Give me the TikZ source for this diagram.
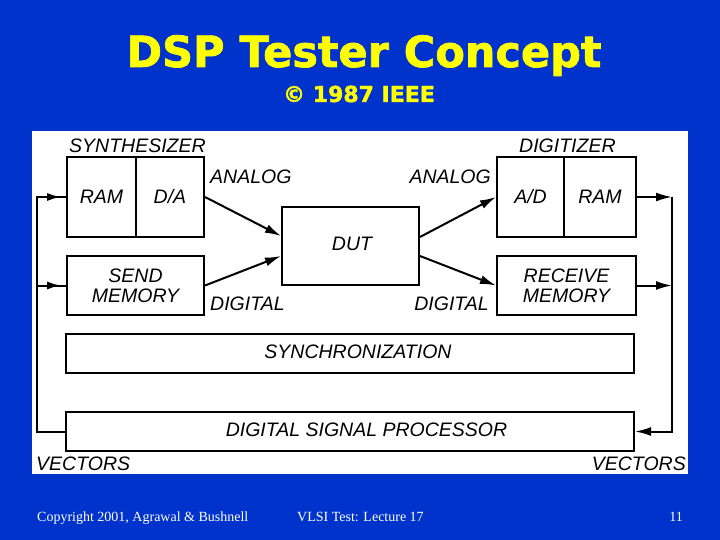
\documentclass[tikz,border=0pt]{standalone}
\usepackage{fontspec}
\setmainfont{Liberation Sans}
\newfontfamily\titlefont[BoldFeatures={FakeBold=1.6}]{DejaVu Sans}
\newfontfamily\footfont{Liberation Serif}
\usetikzlibrary{arrows.meta,calc}
\definecolor{slideblue}{RGB}{0,51,204}
\definecolor{titleyellow}{RGB}{255,255,0}
\begin{document}
\begin{tikzpicture}[x=1pt,y=-1pt,
  box/.style={draw=black,line width=2pt,fill=white,inner sep=0pt,
    font=\fontsize{19.5}{20}\selectfont\itshape,align=center},
  lbl/.style={inner sep=0pt,font=\fontsize{19.5}{20}\selectfont\itshape},
  wire/.style={draw=black,line width=2pt},
  tip/.style={-{Latex[length=16pt,width=9pt]}},
  foot/.style={inner sep=0pt,text=white,font=\footfont\fontsize{14}{14}\selectfont}
]
\useasboundingbox (0,0) rectangle (720,540);
\fill[slideblue] (0,0) rectangle (720,540);

% title
\node[inner sep=0pt,anchor=base,text=titleyellow,font=\titlefont\bfseries\fontsize{43}{43}\selectfont] (title) at (364,67) {DSP Tester Concept};
\node[inner sep=0pt,anchor=base,text=titleyellow,font=\titlefont\bfseries\fontsize{22}{22}\selectfont] (copy) at (359,102) {© 1987 IEEE};

% panel
\fill[white] (32,131) rectangle (688,474);

% boxes
\node[box,minimum width=69pt,minimum height=80pt] (ram1) at (101.5,197) {RAM};
\node[box,minimum width=68pt,minimum height=80pt] (da) at (170,197) {D/A};
\node[box,minimum width=137pt,minimum height=59pt] (send) at (135.5,285.5) {SEND\\MEMORY};
\node[box,minimum width=137pt,minimum height=78pt] (dut) at (350.5,246) {};
\node[lbl] (duttext) at (352,244) {DUT};
\node[box,minimum width=67pt,minimum height=80pt] (ad) at (530.5,197) {A/D};
\node[box,minimum width=72pt,minimum height=80pt] (ram2) at (600,197) {RAM};
\node[box,minimum width=139pt,minimum height=59pt] (recv) at (566.5,285.5) {RECEIVE\\MEMORY};
\node[box,minimum width=568pt,minimum height=39pt] (sync) at (350,353.5) {};
\node[lbl] (synctext) at (358,352) {SYNCHRONIZATION};
\node[box,minimum width=568pt,minimum height=39pt] (dsp) at (350,431.5) {};
\node[lbl] (dsptext) at (366.5,430) {DIGITAL SIGNAL PROCESSOR};

% labels
\node[lbl,anchor=base west] (synth) at (69,153) {SYNTHESIZER};
\node[lbl,anchor=base west] (digit) at (519,153) {DIGITIZER};
\node[lbl,anchor=base west] (anl) at (210,184) {ANALOG};
\node[lbl,anchor=base east] (anr) at (491,184) {ANALOG};
\node[lbl,anchor=base west] (dgl) at (210,310) {DIGITAL};
\node[lbl,anchor=base east] (dgr) at (489,310) {DIGITAL};
\node[lbl,anchor=base west] (vecl) at (36,470) {VECTORS};
\node[lbl,anchor=base east] (vecr) at (686,470) {VECTORS};

% coordinates for the feedback loops
\coordinate (lt) at (37,197);
\coordinate (lm) at (37,285.5);
\coordinate (lb) at (37,431.5);
\coordinate (rt) at (672,197);
\coordinate (rm) at (672,285.5);
\coordinate (rb) at (672,431.5);

% connectors
\draw[wire,line join=miter] (ram1.west) -- (lt) -- (lb) -- (dsp.west);
\draw[wire,-{Latex[length=14pt,width=8pt]}] (lt) -- ($(ram1.west)+(-5,0)$);
\draw[wire] (lm) -- (send.west);
\draw[wire,-{Latex[length=14pt,width=8pt]}] (lm) -- ($(send.west)+(-5,0)$);
\draw[wire,tip] (da.east) -- ($(dut.west)+(0,-10)$);
\draw[wire,tip] (send.east) -- ($(dut.west)+(0,10)$);
\draw[wire,tip] ($(dut.east)+(0,-9)$) -- (ad.west);
\draw[wire,tip] ($(dut.east)+(0,10)$) -- (recv.west);
\draw[wire,tip] (ram2.east) -- (rt);
\draw[wire,tip] (recv.east) -- (rm);
\draw[wire,tip,line join=miter] (rt) -- (rb) -- (dsp.east);

% footer
\node[foot,anchor=base west] (f1) at (37,521) {Copyright 2001, Agrawal \& Bushnell};
\node[foot,anchor=base west] (f2) at (297,521) {VLSI Test: Lecture 17};
\node[foot,anchor=base east] (f3) at (683,521) {11};
\end{tikzpicture}
\end{document}
